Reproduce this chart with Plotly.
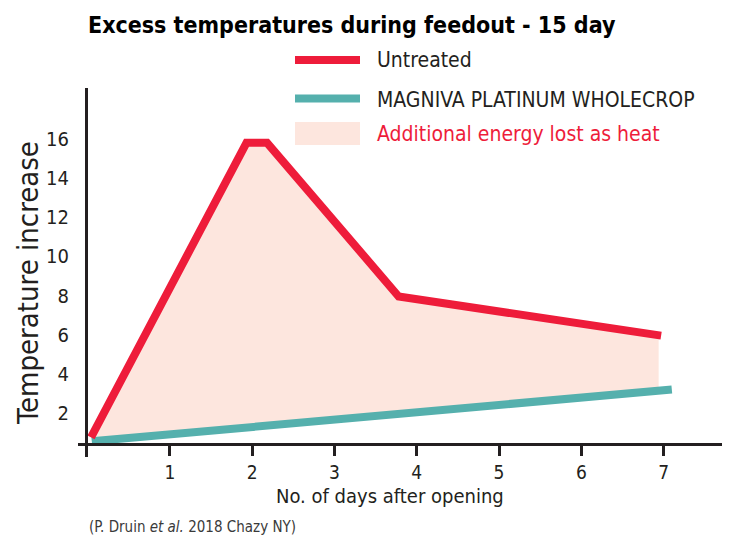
import numpy as np
import plotly.graph_objects as go

# ---- data ----
days_untreated = [0.04, 1.93, 2.18, 3.78, 6.97]
temp_untreated = [0.75, 15.8, 15.8, 7.95, 5.95]
days_treated = [0.05, 7.1]
temp_treated = [0.55, 3.2]
x_ticks = [1, 2, 3, 4, 5, 6, 7]
y_ticks = [2, 4, 6, 8, 10, 12, 14, 16]

title_text = "Excess temperatures during feedout - 15 day"
legend_names = ["Untreated", "MAGNIVA PLATINUM WHOLECROP", "Additional energy lost as heat"]
x_title = "No. of days after opening"
y_title = "Temperature increase"
source_text = "(P. Druin <i>et al.</i> 2018 Chazy NY)"

RED = "#EE1C3A"
TEAL = "#55B0AD"
PINK = "#FDE6DE"
DARK = "#231F20"
FONT = "DejaVu Sans Condensed, Roboto, sans-serif"

W, H = 730, 539
L, R, T, B = 78, 8, 88, 82
pw, ph = W - L - R, H - T - B


def px(x):
    return (x - L) / pw


def py(y):
    return (H - B - y) / ph


# fill polygon between the two series
fill_end_x = days_untreated[-1] - 0.03
teal_at_end = float(np.interp(fill_end_x, days_treated, temp_treated))
fill_x = days_untreated[:-1] + [fill_end_x, fill_end_x, days_treated[0]]
fill_y = temp_untreated[:-1] + [float(np.interp(fill_end_x, days_untreated, temp_untreated)), teal_at_end, temp_treated[0]]

fig = go.Figure()
fig.add_trace(go.Scatter(x=fill_x, y=fill_y, fill="toself", fillcolor=PINK,
                         mode="lines", line=dict(width=0), hoverinfo="skip",
                         showlegend=False, name=legend_names[2]))
fig.add_trace(go.Scatter(x=days_treated, y=temp_treated, mode="lines",
                         line=dict(color=TEAL, width=8), showlegend=False,
                         name=legend_names[1]))
fig.add_trace(go.Scatter(x=days_untreated, y=temp_untreated, mode="lines",
                         line=dict(color=RED, width=8), showlegend=False,
                         name=legend_names[0]))

shapes = []
annotations = []

# legend samples
lx0, lx1 = px(295), px(360)
shapes.append(dict(type="line", xref="paper", yref="paper", x0=lx0, x1=lx1,
                   y0=py(60), y1=py(60), line=dict(color=RED, width=8)))
shapes.append(dict(type="line", xref="paper", yref="paper", x0=lx0, x1=lx1,
                   y0=py(98.5), y1=py(98.5), line=dict(color=TEAL, width=8)))
shapes.append(dict(type="rect", xref="paper", yref="paper", x0=lx0, x1=lx1,
                   y0=py(145), y1=py(122), fillcolor=PINK, line=dict(width=0)))

legend_y = [60, 100, 134]
legend_colors = [DARK, DARK, RED]
for name, yy, col in zip(legend_names, legend_y, legend_colors):
    annotations.append(dict(text=name, xref="paper", yref="paper", x=px(375), y=py(yy),
                            xanchor="left", yanchor="middle", showarrow=False,
                            font=dict(family=FONT, size=21, color=col)))

# title
annotations.append(dict(text="<b>" + title_text + "</b>", xref="paper", yref="paper",
                        x=px(86), y=py(25), xanchor="left", yanchor="middle",
                        showarrow=False, font=dict(family=FONT, size=23, color="#000000")))
# source
annotations.append(dict(text=source_text, xref="paper", yref="paper",
                        x=px(87), y=py(527), xanchor="left", yanchor="middle",
                        showarrow=False, font=dict(family=FONT, size=15, color="#3a3a3a")))
# axis titles
annotations.append(dict(text=x_title, xref="paper", yref="paper",
                        x=px(390), y=py(496), xanchor="center", yanchor="middle",
                        showarrow=False, font=dict(family=FONT, size=20, color=DARK)))
annotations.append(dict(text=y_title, xref="paper", yref="paper",
                        x=px(28), y=py(283), xanchor="center", yanchor="middle",
                        textangle=-90, showarrow=False,
                        font=dict(family=FONT, size=29, color=DARK)))

fig.update_layout(
    width=W, height=H,
    margin=dict(l=L, r=R, t=T, b=B),
    paper_bgcolor="white", plot_bgcolor="white",
    showlegend=False,
    shapes=shapes, annotations=annotations,
    xaxis=dict(range=[-0.118, 7.71], tickvals=x_ticks, ticktext=[str(v) for v in x_ticks],
               showgrid=False, zeroline=False, showline=True, linecolor=DARK, linewidth=3,
               ticks="outside", ticklen=10, tickwidth=3, tickcolor=DARK,
               anchor="free", position=(457 - 444) / ph,
               tickfont=dict(family=FONT, size=19, color=DARK)),
    yaxis=dict(range=[-0.25, 18.6], tickvals=y_ticks, ticktext=[str(v) for v in y_ticks],
               showgrid=False, zeroline=False, showline=True, linecolor=DARK, linewidth=3,
               ticks="outside", ticklen=12, tickcolor="rgba(0,0,0,0)",
               anchor="free", position=(86 - L) / pw,
               tickfont=dict(family=FONT, size=20, color=DARK)),
)

fig.write_html("out.html", config={"displayModeBar": False},
               post_script="document.body.style.margin='0px';document.body.style.overflow='hidden';")
